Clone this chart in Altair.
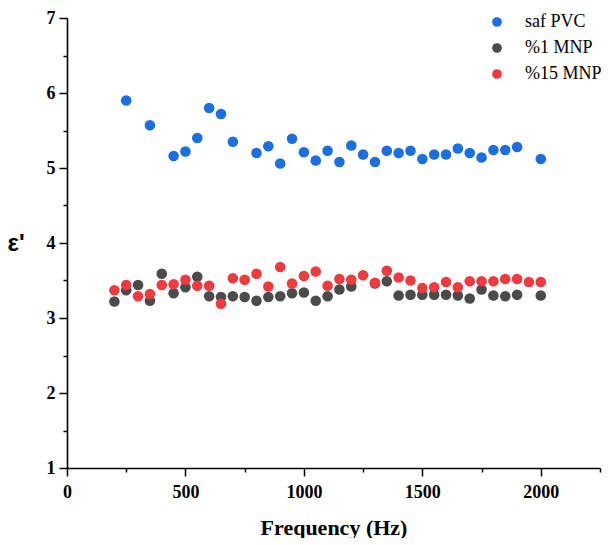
import altair as alt
import pandas as pd

series_names = ["saf PVC", "%1 MNP", "%15 MNP"]
series_colors = ["#1b6fe0", "#4b4b4b", "#ef3a3e"]

blue_freq = [250, 350, 450, 500, 550, 600, 650, 700, 800, 850, 900, 950,
             1000, 1050, 1100, 1150, 1200, 1250, 1300, 1350, 1400, 1450,
             1500, 1550, 1600, 1650, 1700, 1750, 1800, 1850, 1900, 2000]
blue_eps = [5.90, 5.57, 5.16, 5.22, 5.40, 5.80, 5.72, 5.35, 5.20, 5.29, 5.06, 5.39,
            5.21, 5.10, 5.23, 5.08, 5.30, 5.18, 5.08, 5.23, 5.20, 5.23,
            5.12, 5.18, 5.18, 5.26, 5.20, 5.14, 5.24, 5.24, 5.28, 5.12]

gray_freq = [200, 250, 300, 350, 400, 450, 500, 550, 600, 650, 700, 750, 800,
             850, 900, 950, 1000, 1050, 1100, 1150, 1200, 1300, 1350, 1400,
             1450, 1500, 1550, 1600, 1650, 1700, 1750, 1800, 1850, 1900, 2000]
gray_eps = [3.22, 3.37, 3.44, 3.23, 3.59, 3.33, 3.41, 3.55, 3.29, 3.28, 3.29, 3.28, 3.23,
            3.28, 3.29, 3.33, 3.34, 3.23, 3.29, 3.38, 3.42, 3.46, 3.49, 3.30,
            3.31, 3.31, 3.31, 3.31, 3.30, 3.26, 3.38, 3.30, 3.29, 3.31, 3.30]

red_freq = [200, 250, 300, 350, 400, 450, 500, 550, 600, 650, 700, 750, 800,
            850, 900, 950, 1000, 1050, 1100, 1150, 1200, 1250, 1300, 1350,
            1400, 1450, 1500, 1550, 1600, 1650, 1700, 1750, 1800, 1850, 1900,
            1950, 2000]
red_eps = [3.37, 3.44, 3.29, 3.32, 3.44, 3.45, 3.51, 3.43, 3.43, 3.19, 3.53, 3.51, 3.59,
           3.42, 3.68, 3.46, 3.56, 3.62, 3.43, 3.52, 3.51, 3.57, 3.47, 3.63,
           3.54, 3.50, 3.40, 3.41, 3.48, 3.41, 3.49, 3.49, 3.49, 3.52, 3.52,
           3.48, 3.48]

x_ticks = [0, 250, 500, 750, 1000, 1250, 1500, 1750, 2000, 2250]
y_ticks = [1, 1.5, 2, 2.5, 3, 3.5, 4, 4.5, 5, 5.5, 6, 6.5, 7]

rows = []
idx = 0
for name, fs, vs in zip(series_names, [blue_freq, gray_freq, red_freq], [blue_eps, gray_eps, red_eps]):
    for f, v in zip(fs, vs):
        rows.append({"freq": f, "eps": v, "series": name, "idx": idx})
        idx += 1
df = pd.DataFrame(rows)

serif = "Liberation Serif"

chart = alt.Chart(df).mark_circle(size=112, opacity=1).encode(
    x=alt.X("freq:Q",
            scale=alt.Scale(domain=[0, 2250], nice=False, zero=False),
            axis=alt.Axis(values=x_ticks, format="d",
                          labelExpr="datum.value % 500 === 0 ? datum.label : ''",
                          tickSize={"condition": {"test": "datum.value % 500 === 0", "value": 8}, "value": 4},
                          title="Frequency (Hz)", titleFontSize=22, titleFont=serif,
                          titleFontWeight="bold", titleBaseline="alphabetic", titleY=66,
                          labelPadding=7)),
    y=alt.Y("eps:Q",
            scale=alt.Scale(domain=[1, 7], nice=False, zero=False),
            axis=alt.Axis(values=y_ticks,
                          labelExpr="datum.value % 1 === 0 ? format(datum.value, 'd') : ''",
                          tickSize={"condition": {"test": "datum.value % 1 === 0", "value": 8}, "value": 4},
                          title="ε'", titleAngle=0, titleFont="Liberation Sans",
                          titleFontSize=24, titleFontWeight="bold",
                          titleAlign="left", titleBaseline="middle",
                          titleX=-60, titleY=225, labelPadding=4)),
    color=alt.Color("series:N",
                    scale=alt.Scale(domain=series_names, range=series_colors),
                    legend=alt.Legend(title=None, orient="none", legendX=421, legendY=-5,
                                      symbolType="circle", symbolSize=95, symbolStrokeWidth=0,
                                      labelFont=serif, labelFontSize=18, labelOffset=19,
                                      rowPadding=8, padding=0, labelColor="black")),
    order=alt.Order("idx:Q"),
).properties(
    width=533, height=450,
    autosize="none",
    padding={"left": 59, "top": 10, "right": 3, "bottom": 70},
).configure_view(stroke=None).configure_axis(
    grid=False, domainColor="black", domainWidth=1.6, tickColor="black", tickWidth=1.5,
    labelFont=serif, labelFontSize=18, labelFontWeight="bold", labelColor="black",
    titleColor="black", labelOverlap=False, labelFlush=False
)

chart.save("out.html", embed_options={"renderer": "svg", "actions": False})
